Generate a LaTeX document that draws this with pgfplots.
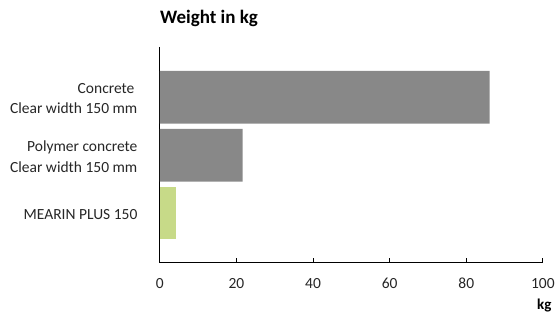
\documentclass[border=0pt]{standalone}
\usepackage{fontspec}
\setmainfont{Carlito}
\usepackage{pgfplots}
\pgfplotsset{compat=1.18}
\definecolor{barg}{RGB}{136,136,136}
\definecolor{barl}{RGB}{199,218,136}
\begin{document}
\begin{tikzpicture}
\begin{axis}[
  at={(0,0)}, anchor=south west,
  scale only axis, width=383.3bp, height=216bp,
  xmin=0, xmax=100, ymin=-0.867, ymax=2.857, y dir=reverse,
  ytick={0,1,2},
  yticklabels={{Concrete\rule{3bp}{0pt}\\Clear width 150 mm},{Polymer concrete\\Clear width 150 mm},{MEARIN PLUS 150}},
  yticklabel style={align=right, font=\fontsize{15.5bp}{20.5bp}\selectfont, text=black!85, xshift=-19bp, yshift=-1.5bp},
  xticklabel style={font=\fontsize{15.5bp}{18bp}\selectfont, text=black!85, yshift=-12bp},
  /pgf/number format/assume math mode=true,
  axis x line*=bottom, axis y line*=left,
  axis line style={-, black, line width=0.9bp},
  xtick={0,20,40,60,80,100},
  tick align=inside, major tick length=5bp,
  xtick style={black, line width=0.9bp},
  ytick style={draw=none},
  clip=false,
]
\addplot[xbar, bar shift=0pt, bar width=52.7bp, fill=barg, draw=none] coordinates {(86.1,0) (21.6,1)};
\addplot[xbar, bar shift=0pt, bar width=52.7bp, fill=barl, draw=none] coordinates {(4.3,2)};
\end{axis}
\node[anchor=base west, font=\bfseries\fontsize{19bp}{22bp}\selectfont, inner sep=0pt] at (0bp,239bp) {Weight in kg};
\node[anchor=base east, font=\bfseries\fontsize{15bp}{17bp}\selectfont, inner sep=0pt] at (392bp,-47bp) {kg};
\path[use as bounding box] (-160bp,-55bp) rectangle (398bp,263bp);
\end{tikzpicture}
\end{document}
